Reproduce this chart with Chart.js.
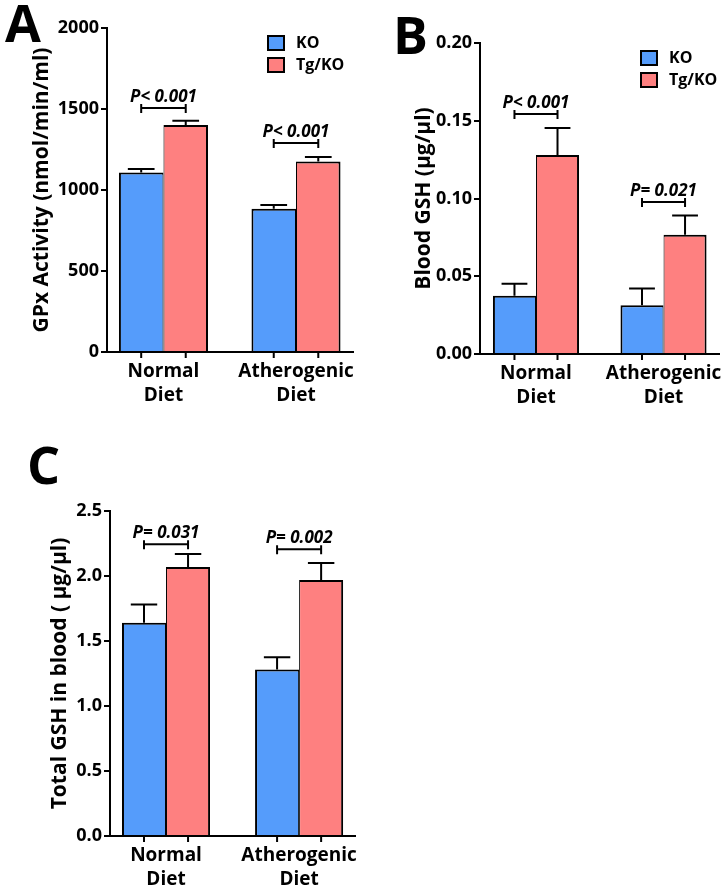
<!DOCTYPE html>
<html>
<head>
<meta charset="utf-8">
<script src="https://cdn.jsdelivr.net/npm/chart.js@4.4.1/dist/chart.umd.min.js"></script>
<style>
  html, body { margin: 0; padding: 0; background: #fff; }
  #page { position: relative; width: 724px; height: 893px; overflow: hidden; }
  .panel { position: absolute; }
  .letter { position: absolute; font: 700 52px 'Open Sans', sans-serif; line-height: 1; color: #000; }
</style>
</head>
<body>
<div id="page">
  <div class="panel" style="left:0;top:0;width:362px;height:440px"><canvas id="chartA" width="362" height="440"></canvas></div>
  <div class="panel" style="left:362px;top:0;width:362px;height:440px"><canvas id="chartB" width="362" height="440"></canvas></div>
  <div class="panel" style="left:0;top:440px;width:362px;height:453px"><canvas id="chartC" width="362" height="453"></canvas></div>
  <div class="letter" style="left:5px;top:-4px">A</div>
  <div class="letter" style="left:393px;top:8px">B</div>
  <div class="letter" style="left:27px;top:438px">C</div>
</div>
<script>
const categories = [['Normal', 'Diet'], ['Atherogenic', 'Diet']];
const groupNames = ['KO', 'Tg/KO'];

// A - GPx activity
const gpxKO = [1108, 885];
const gpxKOErr = [22, 23];
const gpxTg = [1401, 1176];
const gpxTgErr = [27, 27];
const gpxP = ['P< 0.001', 'P< 0.001'];
const gpxPLevel = [1506, 1290];
const gpxTicks = [0, 500, 1000, 1500, 2000];

// B - blood GSH
const bloodKO = [0.0375, 0.0313];
const bloodKOErr = [0.0077, 0.0109];
const bloodTg = [0.128, 0.0767];
const bloodTgErr = [0.0173, 0.0124];
const bloodP = ['P< 0.001', 'P= 0.021'];
const bloodPLevel = [0.1543, 0.0977];
const bloodTicks = [0, 0.05, 0.10, 0.15, 0.20];

// C - total GSH in blood
const totalKO = [1.64, 1.28];
const totalKOErr = [0.14, 0.095];
const totalTg = [2.07, 1.97];
const totalTgErr = [0.10, 0.13];
const totalP = ['P= 0.031', 'P= 0.002'];
const totalPLevel = [2.244, 2.206];
const totalTicks = [0, 0.5, 1.0, 1.5, 2.0, 2.5];

const FONT = "'Open Sans', sans-serif";
const KO_COLOR = '#559cfb';
const TG_COLOR = '#fe8080';

// error bars (upper half only), bar ticks, p-value brackets and the inline legend
const sigMarks = {
  id: 'sigMarks',
  afterDatasetsDraw(chart, args, opts) {
    const { ctx, chartArea, scales: { y } } = chart;
    ctx.save();
    ctx.strokeStyle = '#000';
    ctx.lineWidth = 2;
    chart.data.datasets.forEach((ds, d) => {
      chart.getDatasetMeta(d).data.forEach((bar, i) => {
        const top = y.getPixelForValue(ds.data[i].y + opts.errors[d][i]);
        const cap = bar.width * 0.3;
        ctx.beginPath();
        ctx.moveTo(bar.x, bar.y);
        ctx.lineTo(bar.x, top);
        ctx.moveTo(bar.x - cap, top);
        ctx.lineTo(bar.x + cap, top);
        ctx.moveTo(bar.x, chartArea.bottom);
        ctx.lineTo(bar.x, chartArea.bottom + 6);
        ctx.stroke();
      });
    });

    const ko = chart.getDatasetMeta(0).data;
    const tg = chart.getDatasetMeta(1).data;
    ctx.fillStyle = '#000';
    ctx.font = `italic bold 17px ${FONT}`;
    ctx.textAlign = 'center';
    ctx.textBaseline = 'alphabetic';
    opts.pLabels.forEach((label, i) => {
      const yy = y.getPixelForValue(opts.pLevels[i]);
      const x0 = ko[i].x, x1 = tg[i].x;
      ctx.beginPath();
      ctx.moveTo(x0, yy); ctx.lineTo(x1, yy);
      ctx.moveTo(x0, yy - 4); ctx.lineTo(x0, yy + 5);
      ctx.moveTo(x1, yy - 4); ctx.lineTo(x1, yy + 5);
      ctx.stroke();
      ctx.fillText(label, (x0 + x1) / 2, yy - 6);
    });

    if (opts.legend) {
      const lx = chartArea.left + 160, ly = chartArea.top + 7;
      ctx.font = `bold 16px ${FONT}`;
      ctx.textAlign = 'left';
      ctx.textBaseline = 'middle';
      chart.data.datasets.forEach((ds, d) => {
        const by = ly + d * 22;
        ctx.fillStyle = ds.backgroundColor;
        ctx.fillRect(lx, by, 18, 16);
        ctx.strokeRect(lx + 1, by + 1, 16, 14);
        ctx.fillStyle = '#000';
        ctx.fillText(ds.label, lx + 29, by + 8);
      });
    }
    ctx.restore();
  }
};

function makePanel(canvas, p) {
  const axisFont = { family: FONT, size: 18, weight: 'bold' };
  return new Chart(canvas, {
    type: 'bar',
    data: {
      datasets: [
        {
          label: groupNames[0],
          data: p.ko.map((v, i) => ({ x: i + 1, y: v })),
          backgroundColor: KO_COLOR,
          borderColor: '#000',
          borderWidth: { left: 2, right: 1, top: 2, bottom: 0 },
          categoryPercentage: p.groupWidth,
          barPercentage: 1,
        },
        {
          label: groupNames[1],
          data: p.tg.map((v, i) => ({ x: i + 1, y: v })),
          backgroundColor: TG_COLOR,
          borderColor: '#000',
          borderWidth: { left: 1, right: 2, top: 2, bottom: 0 },
          categoryPercentage: p.groupWidth,
          barPercentage: 1,
        }
      ]
    },
    options: {
      responsive: false,
      animation: false,
      layout: { padding: p.pad },
      scales: {
        x: {
          type: 'linear',
          min: p.xMin,
          max: p.xMax,
          bounds: 'data',
          offset: false,
          border: { color: '#000', width: 2 },
          grid: { color: 'rgba(0,0,0,0)', drawOnChartArea: false, tickLength: 6, offset: false },
          ticks: {
            color: '#000',
            font: { family: FONT, size: 19, weight: 'bold', lineHeight: 1.3 },
            padding: 1,
            autoSkip: false,
            maxRotation: 0,
            callback: (v) => categories[v - 1]
          },
          afterBuildTicks: (axis) => { axis.ticks = categories.map((c, i) => ({ value: i + 1 })); },
          afterFit: (axis) => { axis.height = p.xAxisHeight; }
        },
        y: {
          min: 0,
          max: p.yTicks[p.yTicks.length - 1],
          border: { color: '#000', width: 2 },
          grid: { drawOnChartArea: false, color: '#000', lineWidth: 2, tickLength: 6 },
          ticks: {
            color: '#000',
            font: axisFont,
            padding: 2,
            callback: (v) => v.toFixed(p.decimals)
          },
          afterBuildTicks: (axis) => { axis.ticks = p.yTicks.map(v => ({ value: v })); },
          title: {
            display: true,
            text: p.yTitle,
            color: '#000',
            font: { family: FONT, size: 21, weight: 'bold' },
            padding: { top: p.titleX, bottom: 0 }
          },
          afterFit: (axis) => { axis.width = p.yAxisWidth; }
        }
      },
      plugins: {
        legend: { display: false },
        tooltip: { enabled: false },
        sigMarks: {
          errors: [p.koErr, p.tgErr],
          pLabels: p.pLabels,
          pLevels: p.pLevels,
          legend: p.legend
        }
      }
    },
    plugins: [sigMarks]
  });
}

makePanel(document.getElementById('chartA'), {
  ko: gpxKO, koErr: gpxKOErr, tg: gpxTg, tgErr: gpxTgErr,
  pLabels: gpxP, pLevels: gpxPLevel, yTicks: gpxTicks, decimals: 0,
  yTitle: 'GPx Activity (nmol/min/ml)', legend: true,
  pad: { top: 28, right: 9, left: 0, bottom: 0 },
  yAxisWidth: 107, xAxisHeight: 88, titleX: 29,
  xMin: 0.574, xMax: 2.43, groupWidth: 0.672
});

makePanel(document.getElementById('chartB'), {
  ko: bloodKO, koErr: bloodKOErr, tg: bloodTg, tgErr: bloodTgErr,
  pLabels: bloodP, pLevels: bloodPLevel, yTicks: bloodTicks, decimals: 2,
  yTitle: 'Blood GSH (μg/μl)', legend: true,
  pad: { top: 43, right: 5, left: 0, bottom: 0 },
  yAxisWidth: 118, xAxisHeight: 86, titleX: 49,
  xMin: 0.561, xMax: 2.435, groupWidth: 0.675
});

makePanel(document.getElementById('chartC'), {
  ko: totalKO, koErr: totalKOErr, tg: totalTg, tgErr: totalTgErr,
  pLabels: totalP, pLevels: totalPLevel, yTicks: totalTicks, decimals: 1,
  yTitle: 'Total GSH in blood ( μg/μl)', legend: false,
  pad: { top: 71, right: 7, left: 0, bottom: 0 },
  yAxisWidth: 110, xAxisHeight: 57, titleX: 47,
  xMin: 0.579, xMax: 2.42, groupWidth: 0.662
});
</script>
</body>
</html>
